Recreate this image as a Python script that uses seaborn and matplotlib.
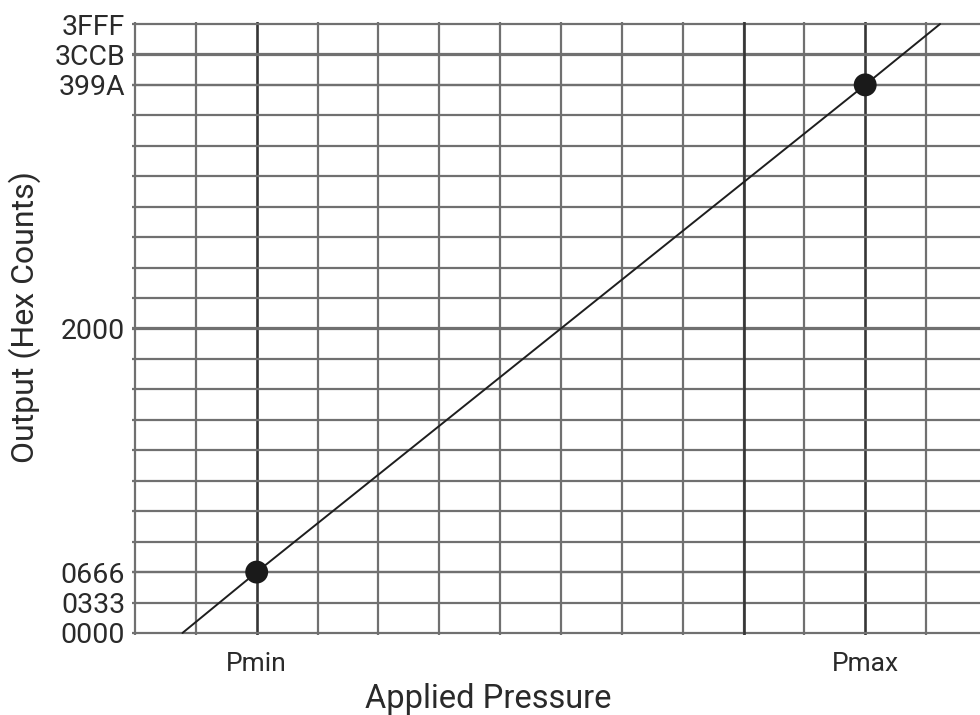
import numpy as np
import pandas as pd
import matplotlib
matplotlib.use("Agg")
import matplotlib.pyplot as plt
import seaborn as sns

# ---- data ----
pressure = [0.78, 2.0, 12.0, 13.23]            # transfer line, grid units
output_counts = [0x0000, 0x0666, 0x399A, 0x3FFF]
point_pressure = [2.0, 12.0]                   # Pmin, Pmax
point_counts = [0x0666, 0x399A]
x_tick_pos = [2, 12]
x_tick_labels = ["Pmin", "Pmax"]
y_tick_labels = ["0000", "0333", "0666", "2000", "399A", "3CCB", "3FFF"]
y_tick_pos = [int(s, 16) for s in y_tick_labels]
full_scale = 0x3FFF
n_y_div = 20
n_x_div = 13

sns.set_theme(style="white")
plt.rcParams['font.family'] = ['Roboto', 'DejaVu Sans']
text_color = "#2a2a2a"

fig = plt.figure(figsize=(9.8, 7.15), dpi=100)
px_x = 60.85
left_px = 135 - 0.05 * px_x
ax = fig.add_axes([left_px / 980, (715 - 635.2) / 715, 1 - left_px / 980, (635.2 - 21.8) / 715])

line_df = pd.DataFrame({"pressure": pressure, "counts": output_counts})
pts_df = pd.DataFrame({"pressure": point_pressure, "counts": point_counts})

sns.lineplot(data=line_df, x="pressure", y="counts", color="#1e1e1e", linewidth=1.4,
             ax=ax, zorder=5, sort=False)
sns.scatterplot(data=pts_df, x="pressure", y="counts", color="#1a1a1a", s=16.5 ** 2,
                edgecolor="none", ax=ax, zorder=6)

ax.set_xlim(-0.05, (980 - 135) / px_x)
ax.set_ylim(-60, full_scale + 60)

ax.set_xticks(x_tick_pos)
ax.set_xticklabels(x_tick_labels)
ax.set_xticks(np.arange(0, n_x_div + 1), minor=True)
ax.set_yticks(y_tick_pos)
ax.set_yticklabels(y_tick_labels)
ax.set_yticks(np.linspace(0, full_scale, n_y_div + 1), minor=True)

ax.grid(which="minor", color="#707070", linewidth=1.6)
ax.grid(which="major", axis="y", color="#707070", linewidth=1.6)
ax.grid(which="major", axis="x", color="#363636", linewidth=1.9)
ax.axvline(10, color="#363636", linewidth=1.9, zorder=1)
ax.set_axisbelow(True)

for s in ax.spines.values():
    s.set_visible(False)

ax.tick_params(axis="both", which="both", length=0)
ax.tick_params(axis="y", labelsize=20.5, pad=5, labelcolor=text_color)
ax.tick_params(axis="x", labelsize=19, pad=12, labelcolor=text_color)

ax.set_xlabel("")
ax.set_ylabel("")
fig.text(488 / 980, 1 - 699 / 715, "Applied Pressure", ha="center", va="center",
         fontsize=23.5, color=text_color)
fig.text(25 / 980, 1 - 317 / 715, "Output (Hex Counts)", ha="center", va="center",
         rotation=90, fontsize=23, color=text_color)

fig.savefig("out.png", dpi=100)
